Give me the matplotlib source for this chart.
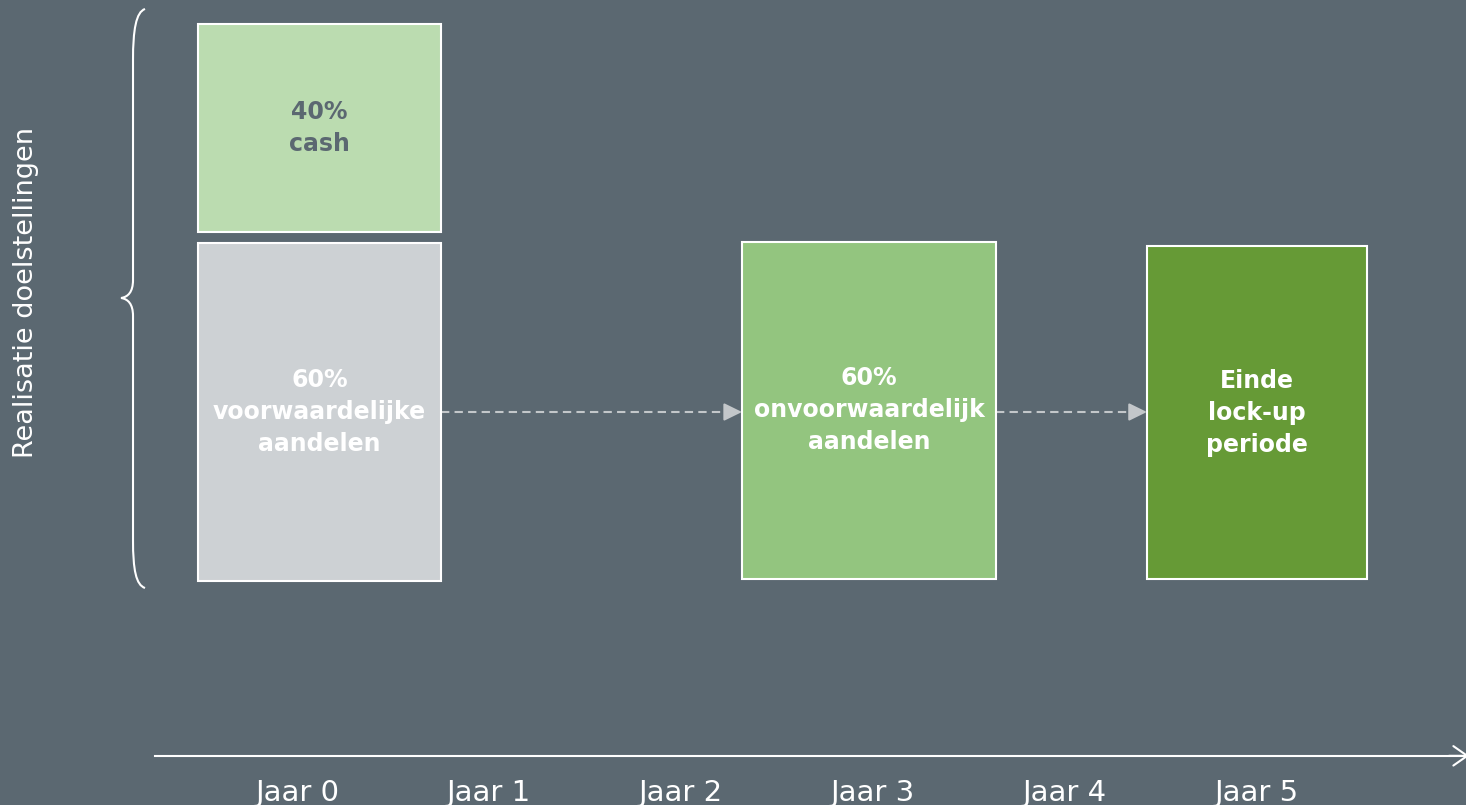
import matplotlib
matplotlib.use("Agg")
import matplotlib.pyplot as plt
from matplotlib.patches import Rectangle, PathPatch
from matplotlib.path import Path

# --- data -------------------------------------------------------------
years = [0, 1, 2, 3, 4, 5]
year_labels = ["Jaar 0", "Jaar 1", "Jaar 2", "Jaar 3", "Jaar 4", "Jaar 5"]

# boxes: start / end in years, bottom / top in % of target realisation
box_start = [-0.516, -0.516, 2.318, 4.427]
box_end = [0.750, 0.750, 3.641, 5.573]
box_bottom = [62.1, -0.2, 0.2, 0.2]
box_top = [99.3, 60.2, 60.4, 59.6]
box_labels = ["40%\ncash",
              "60%\nvoorwaardelijke\naandelen",
              "60%\nonvoorwaardelijk\naandelen",
              "Einde\nlock-up\nperiode"]
box_colors = ["#bbdcb0", "#cdd1d4", "#93c57f", "#669a36"]
label_colors = ["#5b6871", "white", "white", "white"]

# dashed transitions between boxes (from, to)
flows = [(0.750, 2.318), (3.641, 4.427)]
flow_level = 30

ylabel = "Realisatie doelstellingen"

bg = "#5b6871"

# --- figure -----------------------------------------------------------
fig = plt.figure(figsize=(14.66, 8.05), dpi=100, facecolor=bg)
ax = fig.add_axes([0, 0, 1, 1])
ax.set_facecolor(bg)
ax.set_xlim(-1.547, 6.089)
ax.set_ylim(-40.18, 103.57)
ax.axis("off")

for x0, x1, y0, y1, c, lab, tc in zip(box_start, box_end, box_bottom, box_top,
                                      box_colors, box_labels, label_colors):
    ax.add_patch(Rectangle((x0, y0), x1 - x0, y1 - y0, facecolor=c,
                           edgecolor="white", linewidth=1.5, zorder=2))
    ax.text((x0 + x1) / 2, (y0 + y1) / 2, lab, ha="center", va="center",
            color=tc, fontsize=17, fontweight="bold", linespacing=1.42,
            zorder=3)

for a, b in flows:
    ax.plot([a, b - 0.06], [flow_level, flow_level], color="#c3c7ca",
            lw=1.5, dashes=(4, 2.5), zorder=1)
    ax.annotate("", xy=(b, flow_level), xytext=(b - 0.08, flow_level),
                arrowprops=dict(arrowstyle="-|>,head_length=0.55,head_width=0.27",
                                color="#c3c7ca", lw=1.5, mutation_scale=20,
                                shrinkA=0, shrinkB=0), zorder=1)

# time axis
axis_y = -31.4
ax.plot([-0.740, 6.089], [axis_y, axis_y], color="white", lw=1.5)
ax.annotate("", xy=(6.105, axis_y), xytext=(6.0, axis_y),
            annotation_clip=False,
            arrowprops=dict(arrowstyle="->,head_length=0.5,head_width=0.35",
                            color="white", lw=1.5, mutation_scale=20,
                            shrinkA=0, shrinkB=0))
for yr, lab in zip(years, year_labels):
    ax.text(yr, -38.0, lab, ha="center", va="center", color="white",
            fontsize=21)

# curly brace on the left
def px(x, y):
    return ((x - 297) / 192, (580 - y) / 5.6)

brace = [(145, 9), (136, 12), (133, 30), (133, 60),
         (133, 280),
         (133, 292), (128, 297), (121, 298),
         (128, 299), (133, 304), (133, 316),
         (133, 540),
         (133, 570), (136, 585), (145, 588)]
codes = [Path.MOVETO, Path.CURVE4, Path.CURVE4, Path.CURVE4,
         Path.LINETO,
         Path.CURVE4, Path.CURVE4, Path.CURVE4,
         Path.CURVE4, Path.CURVE4, Path.CURVE4,
         Path.LINETO,
         Path.CURVE4, Path.CURVE4, Path.CURVE4]
ax.add_patch(PathPatch(Path([px(*p) for p in brace], codes), facecolor="none",
                       edgecolor="white", lw=1.5))

ax.text(-1.41, 51.4, ylabel, rotation=90, ha="center", va="center",
        color="white", fontsize=19.5)

fig.savefig("out.png", dpi=100, facecolor=bg)
